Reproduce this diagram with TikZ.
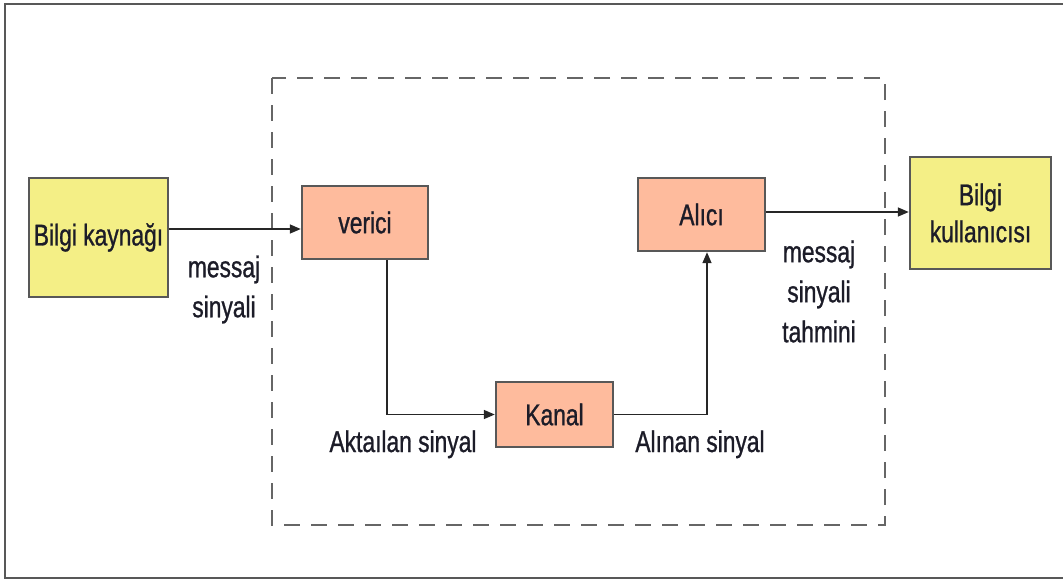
\documentclass[tikz,border=0pt]{standalone}
\usepackage{fontspec}
\setmainfont{Liberation Sans}[FakeStretch=0.76, FakeBold=0.9]
\usetikzlibrary{arrows.meta}

\definecolor{srcyellow}{HTML}{F4EF86}
\definecolor{blocksalmon}{HTML}{FEBB9D}
\definecolor{edgegray}{HTML}{585858}
\definecolor{dashgray}{HTML}{666666}
\definecolor{inkdark}{HTML}{1C1C28}

\newcommand\diagfont{\fontsize{30}{40}\selectfont}

\begin{document}
\begin{tikzpicture}[x=1pt,y=-1pt,
  box/.style={draw=edgegray, line width=2.4pt, inner sep=0pt, text=inkdark,
              font=\diagfont, align=center},
  endbox/.style={box, fill=srcyellow},
  stagebox/.style={box, fill=blocksalmon},
  arr/.style={draw=black!85, line width=1.5pt, -{Triangle[length=11pt,width=9pt]}},
  lbl/.style={text=inkdark, font=\diagfont, align=center, inner sep=0pt},
  frame/.style={draw=edgegray, line width=2.4pt},
  system/.style={draw=dashgray, line width=2.4pt, dash pattern=on 16pt off 11pt}
]
\useasboundingbox (0,0) rectangle (1063,581);

% outer frame (open on the right)
\draw[frame] (1063,4) -- (5,4) -- (5,578) -- (1063,578);

% communication system boundary
\draw[system] (272,78) rectangle (885,525);

% blocks
\node[endbox, minimum width=139pt, minimum height=119pt] (kaynak) at (98.5,237.5) {\raisebox{3pt}{Bilgi kaynağı}};
\node[stagebox, minimum width=126pt, minimum height=73pt] (verici) at (365,222.5) {verici};
\node[stagebox, minimum width=117pt, minimum height=65pt] (kanal) at (554.5,414.5) {Kanal};
\node[stagebox, minimum width=127pt, minimum height=73pt] (alici) at (701.5,214.5) {Alıcı};
\node[endbox, minimum width=141pt, minimum height=112pt, font=\fontsize{30}{37}\selectfont] (kullanici) at (980.5,213) {Bilgi\\kullanıcısı};

% signal path
\draw[arr] (kaynak.east |- 0,229) -- (verici.west |- 0,229);
\draw[arr] (verici.south -| 387,0) |- (kanal.west);
\draw[arr] (kanal.east) -| (alici.south -| 707,0);
\draw[arr] (alici.east |- 0,212) -- (kullanici.west |- 0,212);

% signal labels
\node[lbl] (lmsg) at (224,289.5) {messaj\\sinyali};
\node[lbl, anchor=base] (ltx) at (403,452) {Aktaılan sinyal};
\node[lbl, anchor=base] (lrx) at (700,452) {Alınan sinyal};
\node[lbl] (lest) at (819,291.5) {messaj\\sinyali\\tahmini};
\end{tikzpicture}
\end{document}
